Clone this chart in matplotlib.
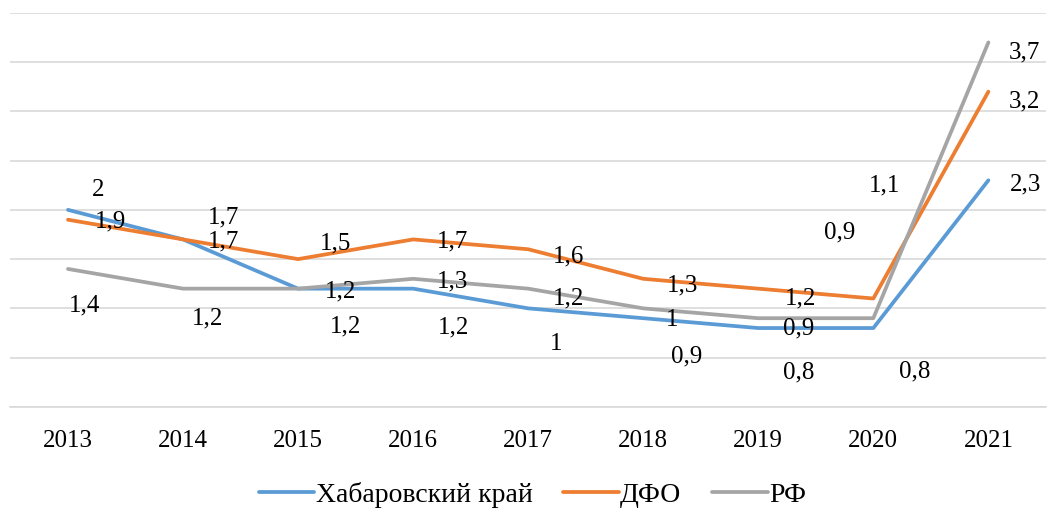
import numpy as np
import matplotlib.pyplot as plt

# data
years = ['2013', '2014', '2015', '2016', '2017', '2018', '2019', '2020', '2021']
khab = [2, 1.7, 1.2, 1.2, 1, 0.9, 0.8, 0.8, 2.3]
dfo = [1.9, 1.7, 1.5, 1.7, 1.6, 1.3, 1.2, 1.1, 3.2]
rf = [1.4, 1.2, 1.2, 1.3, 1.2, 1, 0.9, 0.9, 3.7]
names = ['Хабаровский край', 'ДФО', 'РФ']

# label offsets in pixels (dx, dy up)
off_khab = [(30, 20), (40, 22), (47, -38), (40, -39), (28, -36), (43, -38), (40, -44), (41, -43), (37, -4)]
off_dfo = [(42, -2), (40, -2), (37, 16), (39, -2), (40, -7), (39, -7), (42, -10), (11, 113), (36, -10)]
off_rf = [(17, -36), (24, -30), (42, -3), (39, -3), (40, -10), (29, -12), (40, -10), (-34, 86), (36, -10)]

plt.rcParams['font.family'] = ['Liberation Serif', 'DejaVu Serif']

fig = plt.figure(figsize=(10.48, 5.15), dpi=100)
ax = fig.add_axes([0.010, 0.210, 0.988, 0.765])

x = np.arange(len(years))
colors = ['#5B9BD5', '#ED7D31', '#A5A5A5']
series = [khab, dfo, rf]
offsets = [off_khab, off_dfo, off_rf]

for vals, c, nm in zip(series, colors, names):
    ax.plot(x, vals, color=c, lw=2.7, label=nm, solid_capstyle='round', zorder=3)

for vals, offs in zip(series, offsets):
    for xi, v, (dx, dy) in zip(x, vals, offs):
        ax.annotate(f"{v:g}".replace('.', ','), (xi, v), xytext=(dx, dy),
                    textcoords='offset pixels', ha='center', va='center',
                    fontsize=18, color='black', zorder=4)

ax.set_xlim(-0.5, 8.5)
ax.set_ylim(0, 4)
ax.set_yticks(np.arange(0, 4.01, 0.5))
ax.yaxis.grid(True, color='#D9D9D9', lw=1.2)
ax.set_axisbelow(True)
ax.tick_params(axis='y', left=False, labelleft=False)
ax.set_xticks(x)
ax.set_xticklabels(years, fontsize=18)
ax.tick_params(axis='x', length=0, pad=17)
for s in ['top', 'right', 'left']:
    ax.spines[s].set_visible(False)
ax.spines['bottom'].set_color('#D9D9D9')
ax.spines['bottom'].set_linewidth(1.2)

fig.legend(loc='lower center', bbox_to_anchor=(0.508, -0.035), ncol=3, frameon=False,
           fontsize=20, handlelength=2.0, columnspacing=1.1, handletextpad=0.05)

fig.savefig('out.png', dpi=100)
